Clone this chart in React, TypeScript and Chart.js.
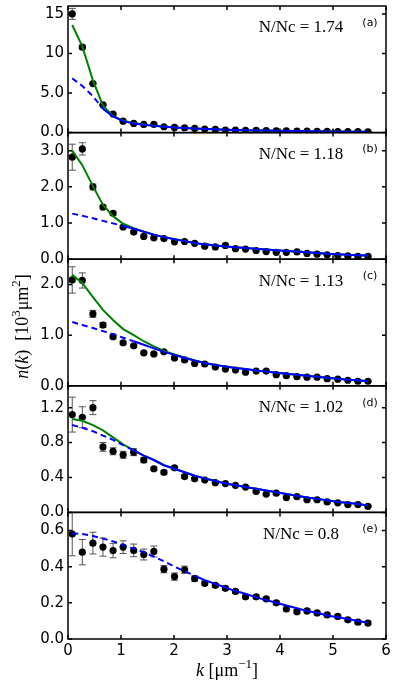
import React, { useEffect, useRef } from 'react';
import { Chart, registerables } from 'chart.js';
Chart.register(...registerables);

// momentum values k [um^-1]
const kValues = [0.08, 0.27, 0.47, 0.66, 0.85, 1.04, 1.24, 1.43, 1.62, 1.81, 2.01, 2.20, 2.39, 2.58, 2.78, 2.97, 3.16, 3.35, 3.55, 3.74, 3.93, 4.12, 4.32, 4.51, 4.70, 4.89, 5.09, 5.28, 5.47, 5.66];
const xTickValues = [0, 1, 2, 3, 4, 5, 6];

// panel (a) N/Nc = 1.74
const dataA = [15.0, 10.8, 6.2, 3.5, 2.35, 1.45, 1.16, 1.03, 1.05, 0.74, 0.65, 0.61, 0.53, 0.44, 0.40, 0.32, 0.32, 0.27, 0.27, 0.25, 0.23, 0.21, 0.20, 0.18, 0.17, 0.15, 0.14, 0.13, 0.12, 0.11];
const errA = [0.7, 0.25, 0.1, 0.06, 0.05, 0.03, 0.03, 0.02, 0.02, 0.02, 0.02, 0.02, 0.02, 0.01, 0.01, 0.01, 0.01, 0.01, 0.01, 0.01, 0.01, 0.01, 0.01, 0.01, 0.01, 0.01, 0.01, 0.01, 0.01, 0.01];
const greenA = [13.6, 10.9, 6.6, 3.4, 2.1, 1.5, 1.2, 1.02, 0.88, 0.76, 0.66, 0.58, 0.52, 0.46, 0.41, 0.37, 0.33, 0.30, 0.27, 0.25, 0.23, 0.21, 0.19, 0.17, 0.16, 0.14, 0.13, 0.12, 0.11, 0.10];
const blueA = [6.85, 5.9, 4.6, 3.0, 2.05, 1.45, 1.15, 0.98, 0.85, 0.74, 0.65, 0.58, 0.52, 0.46, 0.41, 0.37, 0.33, 0.30, 0.27, 0.25, 0.23, 0.21, 0.19, 0.17, 0.16, 0.14, 0.13, 0.12, 0.11, 0.10];
const ticksA = [0, 5, 10, 15];
const tickLabelsA = ['0.0', '5.0', '10', '15'];

// panel (b) N/Nc = 1.18
const dataB = [2.82, 3.05, 2.0, 1.44, 1.27, 0.89, 0.75, 0.63, 0.59, 0.57, 0.48, 0.49, 0.44, 0.36, 0.34, 0.38, 0.29, 0.28, 0.24, 0.21, 0.19, 0.19, 0.20, 0.16, 0.14, 0.12, 0.10, 0.09, 0.08, 0.08];
const errB = [0.36, 0.17, 0.08, 0.05, 0.05, 0.03, 0.03, 0.03, 0.02, 0.02, 0.02, 0.02, 0.02, 0.01, 0.01, 0.01, 0.01, 0.01, 0.01, 0.01, 0.01, 0.01, 0.01, 0.01, 0.01, 0.01, 0.01, 0.01, 0.01, 0.01];
const greenB = [3.0, 2.6, 2.02, 1.5, 1.19, 0.98, 0.86, 0.76, 0.68, 0.61, 0.55, 0.50, 0.45, 0.41, 0.38, 0.35, 0.33, 0.31, 0.29, 0.27, 0.25, 0.23, 0.21, 0.19, 0.17, 0.15, 0.14, 0.12, 0.11, 0.10];
const blueB = [1.26, 1.2, 1.13, 1.06, 0.99, 0.92, 0.84, 0.76, 0.68, 0.61, 0.55, 0.50, 0.45, 0.41, 0.38, 0.35, 0.33, 0.31, 0.29, 0.27, 0.25, 0.23, 0.21, 0.19, 0.17, 0.15, 0.14, 0.12, 0.11, 0.10];
const ticksB = [0, 1, 2, 3];
const tickLabelsB = ['0.0', '1.0', '2.0', '3.0'];

// panel (c) N/Nc = 1.13
const dataC = [2.09, 2.08, 1.42, 1.2, 0.97, 0.85, 0.79, 0.65, 0.63, 0.67, 0.55, 0.51, 0.44, 0.43, 0.37, 0.33, 0.31, 0.27, 0.29, 0.29, 0.22, 0.20, 0.18, 0.17, 0.17, 0.14, 0.13, 0.11, 0.09, 0.09];
const errC = [0.26, 0.15, 0.07, 0.05, 0.03, 0.03, 0.02, 0.02, 0.02, 0.02, 0.02, 0.02, 0.01, 0.01, 0.01, 0.01, 0.01, 0.01, 0.01, 0.01, 0.01, 0.01, 0.01, 0.01, 0.01, 0.01, 0.01, 0.01, 0.01, 0.01];
const greenC = [2.19, 2.03, 1.75, 1.5, 1.3, 1.12, 1.0, 0.88, 0.78, 0.69, 0.62, 0.56, 0.50, 0.45, 0.41, 0.38, 0.35, 0.33, 0.30, 0.28, 0.26, 0.24, 0.22, 0.20, 0.18, 0.16, 0.14, 0.12, 0.11, 0.09];
const blueC = [1.26, 1.2, 1.14, 1.08, 1.02, 0.95, 0.88, 0.81, 0.74, 0.67, 0.61, 0.55, 0.50, 0.45, 0.41, 0.38, 0.35, 0.33, 0.30, 0.28, 0.26, 0.24, 0.22, 0.20, 0.18, 0.16, 0.14, 0.12, 0.11, 0.09];
const ticksC = [0, 1, 2];
const tickLabelsC = ['0.0', '1.0', '2.0'];

// panel (d) N/Nc = 1.02
const dataD = [1.12, 1.09, 1.2, 0.75, 0.70, 0.66, 0.69, 0.60, 0.50, 0.46, 0.51, 0.41, 0.385, 0.37, 0.34, 0.33, 0.31, 0.29, 0.24, 0.21, 0.22, 0.17, 0.18, 0.145, 0.145, 0.12, 0.11, 0.09, 0.09, 0.07];
const errD = [0.2, 0.12, 0.08, 0.05, 0.04, 0.04, 0.04, 0.03, 0.02, 0.02, 0.02, 0.02, 0.015, 0.01, 0.01, 0.01, 0.01, 0.01, 0.01, 0.01, 0.01, 0.01, 0.01, 0.01, 0.01, 0.01, 0.01, 0.01, 0.01, 0.01];
const greenD = [1.07, 1.05, 1.0, 0.94, 0.86, 0.78, 0.71, 0.65, 0.60, 0.54, 0.50, 0.46, 0.42, 0.39, 0.36, 0.33, 0.31, 0.29, 0.27, 0.25, 0.23, 0.21, 0.19, 0.17, 0.155, 0.14, 0.12, 0.11, 0.095, 0.08];
const blueD = [1.0, 0.97, 0.93, 0.88, 0.83, 0.77, 0.71, 0.65, 0.60, 0.54, 0.50, 0.46, 0.42, 0.39, 0.36, 0.33, 0.31, 0.29, 0.27, 0.25, 0.23, 0.21, 0.19, 0.17, 0.155, 0.14, 0.12, 0.11, 0.095, 0.08];
const ticksD = [0, 0.4, 0.8, 1.2];
const tickLabelsD = ['0.0', '0.4', '0.8', '1.2'];

// panel (e) N/Nc = 0.8
const dataE = [0.58, 0.48, 0.53, 0.508, 0.489, 0.508, 0.49, 0.467, 0.484, 0.386, 0.345, 0.383, 0.334, 0.308, 0.297, 0.28, 0.263, 0.233, 0.233, 0.222, 0.2, 0.166, 0.151, 0.155, 0.144, 0.133, 0.125, 0.106, 0.093, 0.088];
const errE = [0.12, 0.07, 0.06, 0.05, 0.04, 0.035, 0.035, 0.03, 0.03, 0.02, 0.02, 0.02, 0.015, 0.012, 0.01, 0.01, 0.01, 0.01, 0.01, 0.01, 0.01, 0.01, 0.01, 0.01, 0.01, 0.01, 0.01, 0.01, 0.01, 0.01];
const blueE = [0.585, 0.58, 0.57, 0.555, 0.54, 0.52, 0.50, 0.48, 0.455, 0.43, 0.40, 0.375, 0.35, 0.325, 0.305, 0.285, 0.265, 0.25, 0.23, 0.215, 0.2, 0.185, 0.17, 0.155, 0.145, 0.13, 0.12, 0.11, 0.10, 0.09];
const ticksE = [0, 0.2, 0.4, 0.6];
const tickLabelsE = ['0.0', '0.2', '0.4', '0.6'];

const panelLetters = ['(a)', '(b)', '(c)', '(d)', '(e)'];
const ratioLabels = ['N/Nc = 1.74', 'N/Nc = 1.18', 'N/Nc = 1.13', 'N/Nc = 1.02', 'N/Nc = 0.8'];
const yMaxes = [16, 3.5, 2.5, 1.45, 0.7];
const dashUntil = [0.66, 1.04, 1.24, 1.24, 2.39];

const panels = [
  { id: 'ya', data: dataA, err: errA, green: greenA, blue: blueA, ticks: ticksA, labels: tickLabelsA },
  { id: 'yb', data: dataB, err: errB, green: greenB, blue: blueB, ticks: ticksB, labels: tickLabelsB },
  { id: 'yc', data: dataC, err: errC, green: greenC, blue: blueC, ticks: ticksC, labels: tickLabelsC },
  { id: 'yd', data: dataD, err: errD, green: greenD, blue: blueD, ticks: ticksD, labels: tickLabelsD },
  { id: 'ye', data: dataE, err: errE, green: null as number[] | null, blue: blueE, ticks: ticksE, labels: tickLabelsE },
];

type Part = { t: string; it?: boolean; sup?: boolean };

function drawRich(ctx: CanvasRenderingContext2D, parts: Part[], size: number) {
  const fam = '"Liberation Serif", "DejaVu Serif", serif';
  const fontFor = (p: Part) => `${p.it ? 'italic ' : ''}${p.sup ? Math.round(size * 0.7) : size}px ${fam}`;
  let total = 0;
  const widths = parts.map((p) => {
    ctx.font = fontFor(p);
    const w = ctx.measureText(p.t).width;
    total += w;
    return w;
  });
  let x = -total / 2;
  ctx.textAlign = 'left';
  ctx.textBaseline = 'alphabetic';
  parts.forEach((p, i) => {
    ctx.font = fontFor(p);
    ctx.fillText(p.t, x, p.sup ? -size * 0.42 : 0);
    x += widths[i];
  });
}

const framePlugin = {
  id: 'frames',
  beforeDatasetsDraw(chart: any) {
    const ctx = chart.ctx as CanvasRenderingContext2D;
    const xs = chart.scales.x;
    ctx.save();
    ctx.strokeStyle = '#555';
    ctx.lineWidth = 1;
    panels.forEach((p) => {
      const ys = chart.scales[p.id];
      p.data.forEach((v, i) => {
        const e = p.err[i];
        const px = xs.getPixelForValue(kValues[i]);
        const y1 = ys.getPixelForValue(v + e);
        const y2 = ys.getPixelForValue(v - e);
        ctx.beginPath();
        ctx.moveTo(px, y1);
        ctx.lineTo(px, y2);
        ctx.moveTo(px - 3.5, y1);
        ctx.lineTo(px + 3.5, y1);
        ctx.moveTo(px - 3.5, y2);
        ctx.lineTo(px + 3.5, y2);
        ctx.stroke();
      });
    });
    ctx.restore();
  },
  afterDraw(chart: any) {
    const ctx = chart.ctx as CanvasRenderingContext2D;
    const xs = chart.scales.x;
    const { left, right, top, bottom } = chart.chartArea;
    ctx.save();
    ctx.strokeStyle = '#000';
    ctx.lineWidth = 1.5;
    panels.forEach((p, pi) => {
      const ys = chart.scales[p.id];
      ctx.strokeRect(left, ys.top, right - left, ys.bottom - ys.top);
      ctx.beginPath();
      p.ticks.forEach((v) => {
        const y = ys.getPixelForValue(v);
        ctx.moveTo(left, y);
        ctx.lineTo(left + 4, y);
        ctx.moveTo(right, y);
        ctx.lineTo(right - 4, y);
      });
      xTickValues.forEach((kv) => {
        const px = xs.getPixelForValue(kv);
        ctx.moveTo(px, ys.bottom);
        ctx.lineTo(px, ys.bottom - 4);
        ctx.moveTo(px, ys.top);
        ctx.lineTo(px, ys.top + 4);
      });
      ctx.stroke();
      ctx.fillStyle = '#000';
      ctx.textBaseline = 'middle';
      ctx.textAlign = 'center';
      ctx.font = '17px "Liberation Serif", serif';
      ctx.fillText(ratioLabels[pi], 301, ys.top + 22);
      ctx.font = '11px "DejaVu Sans", sans-serif';
      ctx.fillText(panelLetters[pi], 370, ys.top + 17);
    });
    ctx.fillStyle = '#000';
    // x title
    ctx.save();
    ctx.translate((left + right) / 2, 676);
    drawRich(ctx, [{ t: 'k', it: true }, { t: ' [μm' }, { t: '−1', sup: true }, { t: ']' }], 18);
    ctx.restore();
    // y title
    ctx.save();
    ctx.translate(28, (top + bottom) / 2 + 4);
    ctx.rotate(-Math.PI / 2);
    drawRich(ctx, [{ t: 'n', it: true }, { t: '(' }, { t: 'k', it: true }, { t: ')  [10' }, { t: '3', sup: true }, { t: 'μm' }, { t: '2', sup: true }, { t: ']' }], 18);
    ctx.restore();
    ctx.restore();
  },
};

export default function App() {
  const ref = useRef<HTMLCanvasElement | null>(null);
  useEffect(() => {
    if (!ref.current) return;
    const datasets: any[] = [];
    panels.forEach((p, pi) => {
      datasets.push({
        type: 'line',
        data: kValues.map((k, i) => ({ x: k, y: p.blue[i] })),
        yAxisID: p.id,
        borderColor: '#0000ff',
        borderWidth: 2,
        pointRadius: 0,
        tension: 0,
        order: 1,
        segment: {
          borderDash: (c: any) => (c.p1.parsed.x <= dashUntil[pi] + 1e-6 ? [6, 4] : undefined),
        },
      });
      if (p.green) {
        const g = p.green;
        datasets.push({
          type: 'line',
          data: kValues.map((k, i) => ({ x: k, y: g[i] })),
          yAxisID: p.id,
          borderColor: '#008000',
          borderWidth: 2,
          pointRadius: 0,
          tension: 0,
          order: 2,
        });
      }
      datasets.push({
        type: 'scatter',
        data: kValues.map((k, i) => ({ x: k, y: p.data[i] })),
        yAxisID: p.id,
        backgroundColor: '#000',
        borderWidth: 0,
        pointRadius: 3.6,
        order: 3,
      });
    });

    const scales: any = {
      x: {
        type: 'linear',
        min: 0,
        max: 6,
        afterBuildTicks: (s: any) => {
          s.ticks = xTickValues.map((v) => ({ value: v }));
        },
        ticks: { padding: 3, color: '#000', font: { family: 'DejaVu Sans', size: 15 }, autoSkip: false, maxRotation: 0 },
        grid: { display: false, drawTicks: false },
        border: { display: false },
        afterFit: (s: any) => {
          s.height = 50;
          s.paddingLeft = 0;
          s.paddingRight = 0;
        },
      },
    };
    for (let pi = panels.length - 1; pi >= 0; pi--) {
      const p = panels[pi];
      scales[p.id] = {
        type: 'linear',
        position: 'left',
        stack: 'panels',
        stackWeight: 1,
        min: 0,
        max: yMaxes[pi],
        afterBuildTicks: (s: any) => {
          s.ticks = p.ticks.map((v) => ({ value: v }));
        },
        ticks: {
          padding: 4,
          color: '#000',
          autoSkip: false,
          font: { family: 'DejaVu Sans', size: 15 },
          callback: (_v: any, idx: number) => p.labels[idx],
        },
        grid: { display: false, drawTicks: false },
        border: { display: false },
        afterFit: (s: any) => {
          s.width = 68;
          s.paddingTop = 0;
          s.paddingBottom = 0;
        },
      };
    }

    const chart = new Chart(ref.current, {
      type: 'scatter',
      data: { datasets },
      options: {
        responsive: false,
        animation: false,
        devicePixelRatio: 1,
        layout: { padding: { left: 0, right: 13, top: 6, bottom: 0 } },
        plugins: { legend: { display: false }, tooltip: { enabled: false } },
        scales,
      },
      plugins: [framePlugin],
    } as any);
    return () => chart.destroy();
  }, []);
  return (
    <div style={{ position: 'absolute', left: 0, top: 0, width: 399, height: 689, background: '#fff' }}>
      <canvas ref={ref} width={399} height={689} />
    </div>
  );
}
